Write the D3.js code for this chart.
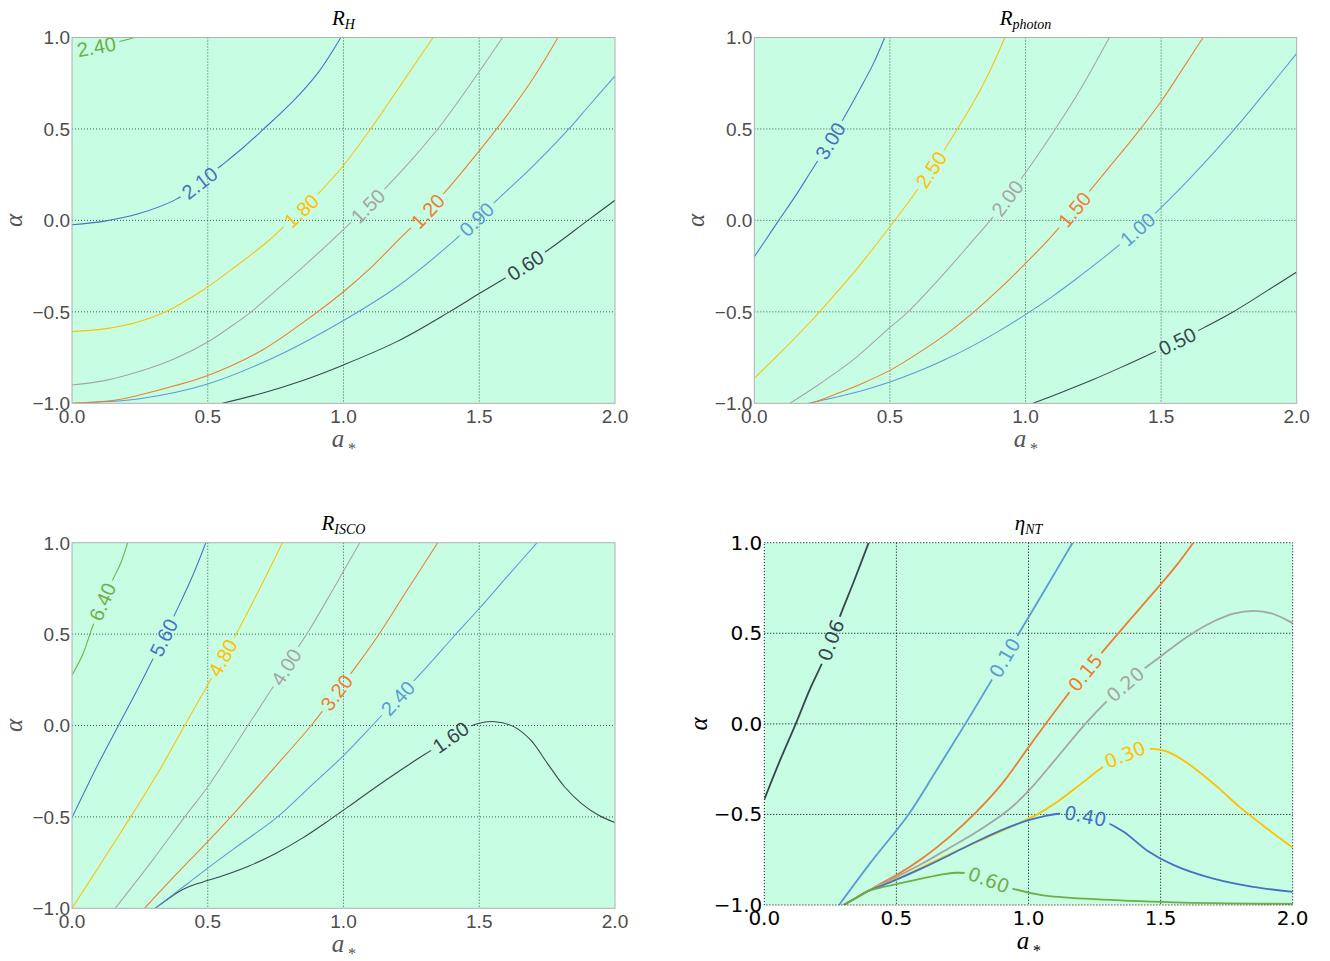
<!DOCTYPE html>
<html><head><meta charset="utf-8">
<script src="https://cdn.jsdelivr.net/npm/d3@7"></script>
<style>body{margin:0;background:#fff}</style>
</head><body>
<svg id="chart" width="1330" height="961"></svg>
<script>
// ---------------- DATA ----------------
const xTicks = [0, 0.5, 1, 1.5, 2];
const yTicks = [-1, -0.5, 0, 0.5, 1];
const xTickLabels = ["0.0", "0.5", "1.0", "1.5", "2.0"];
const yTickLabels = ["\u22121.0", "\u22120.5", "0.0", "0.5", "1.0"];

// R_H contours
const rhLevels = ["0.60", "0.90", "1.20", "1.50", "1.80", "2.10", "2.40"];
const rhLines = [
  [[0.554,-1.0],[0.7,-0.945],[0.85,-0.875],[1.0,-0.79],[1.2,-0.66],[1.39,-0.5],[1.5,-0.40],[1.59,-0.32],[1.67,-0.245],[1.76,-0.155],[1.9,0.0],[2.0,0.11]],
  [[0.02,-1.0],[0.1,-0.993],[0.25,-0.975],[0.5,-0.894],[0.75,-0.745],[1.0,-0.547],[1.2,-0.36],[1.4,-0.12],[1.5,0.02],[1.6,0.16],[1.7,0.30],[1.83,0.5],[1.9,0.62],[2.0,0.79]],
  [[0.0,-0.998],[0.15,-0.985],[0.3,-0.935],[0.5,-0.848],[0.7,-0.71],[0.9,-0.505],[1.0,-0.39],[1.1,-0.26],[1.2,-0.11],[1.3,0.035],[1.4,0.20],[1.5,0.38],[1.6,0.57],[1.7,0.78],[1.79,1.0]],
  [[0.0,-0.9],[0.12,-0.876],[0.25,-0.825],[0.38,-0.755],[0.5,-0.665],[0.6,-0.565],[0.66,-0.5],[0.75,-0.385],[0.85,-0.255],[0.95,-0.12],[1.06,0.035],[1.15,0.17],[1.25,0.33],[1.355,0.515],[1.47,0.75],[1.586,1.0]],
  [[0.0,-0.608],[0.12,-0.593],[0.24,-0.557],[0.344,-0.5],[0.48,-0.383],[0.6,-0.255],[0.725,-0.11],[0.79,-0.02],[0.85,0.06],[0.91,0.15],[1.0,0.3],[1.1,0.5],[1.22,0.76],[1.33,1.0]],
  [[0.0,-0.024],[0.12,-0.004],[0.244,0.036],[0.383,0.115],[0.47,0.205],[0.55,0.30],[0.632,0.40],[0.701,0.493],[0.818,0.657],[0.91,0.815],[0.99,1.0]],
  [[0.01,0.93],[0.09,0.95],[0.16,0.972],[0.23,1.0]]
];
const rhLabelA = [1.67, 1.49, 1.31, 1.09, 0.845, 0.47, 0.09];

// R_photon contours
const rpLevels = ["0.50", "1.00", "1.50", "2.00", "2.50", "3.00"];
const rpLines = [
  [[1.028,-1.0],[1.15,-0.93],[1.25,-0.87],[1.35,-0.805],[1.45,-0.737],[1.56,-0.66],[1.66,-0.585],[1.76,-0.505],[1.88,-0.395],[2.0,-0.282]],
  [[0.2,-1.0],[0.3,-0.967],[0.4,-0.93],[0.5,-0.884],[0.6,-0.828],[0.7,-0.763],[0.8,-0.69],[0.9,-0.607],[1.0,-0.515],[1.1,-0.415],[1.2,-0.305],[1.3,-0.19],[1.4,-0.065],[1.5,0.07],[1.6,0.22],[1.7,0.38],[1.8,0.55],[1.9,0.73],[2.0,0.913]],
  [[0.21,-1.0],[0.3,-0.95],[0.4,-0.89],[0.5,-0.82],[0.6,-0.73],[0.7,-0.63],[0.81,-0.5],[0.9,-0.38],[1.0,-0.235],[1.1,-0.08],[1.2,0.095],[1.3,0.275],[1.413,0.48],[1.5,0.65],[1.58,0.83],[1.655,1.0]],
  [[0.132,-1.0],[0.25,-0.885],[0.375,-0.75],[0.5,-0.585],[0.567,-0.5],[0.7,-0.29],[0.8,-0.12],[0.87,0.0],[0.994,0.248],[1.11,0.5],[1.2,0.71],[1.309,1.0]],
  [[0.0,-0.863],[0.1,-0.718],[0.2,-0.565],[0.3,-0.4],[0.4,-0.225],[0.5,-0.035],[0.6,0.165],[0.7,0.385],[0.8,0.625],[0.86,0.79],[0.924,1.0]],
  [[0.0,-0.199],[0.045,-0.10],[0.09,0.0],[0.15,0.13],[0.21,0.27],[0.27,0.41],[0.33,0.56],[0.39,0.72],[0.44,0.86],[0.481,1.0]]
];
const rpLabelA = [1.56, 1.413, 1.18, 0.932, 0.652, 0.28];

// R_ISCO contours
const riLevels = ["1.60", "2.40", "3.20", "4.00", "4.80", "5.60", "6.40"];
const riLines = [
  [[0.306,-1.0],[0.35,-0.953],[0.39,-0.912],[0.43,-0.882],[0.48,-0.857],[0.55,-0.825],[0.65,-0.77],[0.75,-0.7],[0.85,-0.615],[0.95,-0.515],[1.05,-0.41],[1.15,-0.305],[1.25,-0.205],[1.35,-0.11],[1.43,-0.03],[1.49,0.008],[1.557,0.021],[1.627,-0.006],[1.689,-0.079],[1.751,-0.207],[1.814,-0.335],[1.876,-0.426],[1.938,-0.49],[2.0,-0.531]],
  [[0.306,-1.0],[0.35,-0.95],[0.39,-0.905],[0.43,-0.86],[0.5,-0.78],[0.6,-0.67],[0.757,-0.5],[0.88,-0.33],[1.0,-0.165],[1.106,0.0],[1.2,0.15],[1.3,0.31],[1.402,0.48],[1.5,0.64],[1.6,0.81],[1.713,1.0]],
  [[0.267,-1.0],[0.38,-0.82],[0.5,-0.635],[0.6,-0.475],[0.74,-0.24],[0.881,0.0],[0.974,0.18],[1.05,0.33],[1.122,0.48],[1.23,0.73],[1.347,1.0]],
  [[0.159,-1.0],[0.29,-0.75],[0.415,-0.5],[0.5,-0.335],[0.648,0.0],[0.733,0.194],[0.788,0.32],[0.834,0.431],[0.873,0.52],[0.96,0.74],[1.06,1.0]],
  [[0.0,-1.0],[0.1,-0.77],[0.216,-0.5],[0.32,-0.25],[0.415,0.0],[0.50,0.222],[0.555,0.37],[0.606,0.504],[0.69,0.745],[0.775,1.0]],
  [[0.0,-0.504],[0.05,-0.35],[0.1,-0.2],[0.171,0.0],[0.244,0.205],[0.3,0.37],[0.35,0.52],[0.4,0.675],[0.446,0.825],[0.493,1.0]],
  [[0.0,0.276],[0.04,0.39],[0.073,0.53],[0.11,0.67],[0.151,0.80],[0.18,0.89],[0.205,1.0]]
];
const riLabelA = [1.394, 1.2, 0.974, 0.788, 0.555, 0.337, 0.112];

// eta_NT contours
const etaLevels = ["0.06", "0.10", "0.15", "0.20", "0.30", "0.40", "0.60"];
const etaLines = [
  [[0.0,-0.417],[0.061,-0.196],[0.119,0.0],[0.172,0.189],[0.22,0.34],[0.252,0.46],[0.291,0.611],[0.34,0.79],[0.395,1.0]],
  [[0.283,-1.0],[0.4,-0.77],[0.546,-0.5],[0.65,-0.26],[0.761,0.0],[0.86,0.24],[0.92,0.39],[0.968,0.51],[1.07,0.76],[1.167,1.0]],
  [[0.3,-1.0],[0.345,-0.963],[0.39,-0.925],[0.45,-0.875],[0.5,-0.835],[0.6,-0.74],[0.7,-0.625],[0.8,-0.49],[0.9,-0.33],[1.0,-0.13],[1.05,-0.03],[1.15,0.165],[1.27,0.38],[1.334,0.49],[1.42,0.635],[1.5,0.77],[1.56,0.875],[1.624,1.0]],
  [[0.3,-1.0],[0.345,-0.963],[0.39,-0.925],[0.45,-0.88],[0.5,-0.845],[0.6,-0.77],[0.7,-0.685],[0.8,-0.6],[0.92,-0.48],[1.0,-0.37],[1.1,-0.2],[1.215,0.0],[1.3,0.13],[1.4,0.26],[1.5,0.372],[1.6,0.48],[1.7,0.565],[1.78,0.61],[1.852,0.624],[1.92,0.61],[2.0,0.556]],
  [[0.3,-1.0],[0.345,-0.963],[0.39,-0.925],[0.45,-0.887],[0.5,-0.857],[0.6,-0.79],[0.7,-0.72],[0.8,-0.655],[0.9,-0.59],[1.032,-0.5],[1.1,-0.44],[1.2,-0.33],[1.28,-0.24],[1.35,-0.18],[1.42,-0.145],[1.47,-0.138],[1.52,-0.15],[1.58,-0.195],[1.65,-0.27],[1.72,-0.355],[1.8,-0.46],[1.9,-0.575],[2.0,-0.683]],
  [[0.3,-1.0],[0.345,-0.963],[0.39,-0.925],[0.45,-0.89],[0.5,-0.86],[0.6,-0.795],[0.7,-0.725],[0.8,-0.652],[0.9,-0.585],[1.0,-0.532],[1.07,-0.506],[1.13,-0.495],[1.2,-0.505],[1.28,-0.535],[1.36,-0.595],[1.45,-0.7],[1.55,-0.78],[1.7,-0.855],[1.85,-0.9],[2.0,-0.927]],
  [[0.3,-1.0],[0.345,-0.963],[0.39,-0.925],[0.45,-0.9],[0.5,-0.885],[0.6,-0.853],[0.68,-0.83],[0.73,-0.822],[0.78,-0.828],[0.85,-0.862],[0.93,-0.905],[1.05,-0.945],[1.25,-0.968],[1.55,-0.985],[2.0,-0.994]]
];
const etaLabelA = [0.252, 0.91, 1.215, 1.366, 1.366, 1.215, 0.849];

// ---------------- STYLE / LAYOUT ----------------
const palette = ["#36464e", "#5b9bd5", "#ed7d31", "#a5a5a5", "#ffc000", "#4472c4", "#70ad47"];
const mint = "#c7fde3";

const panels = [
  {x0:72, x1:615, y0:37.5, y1:403.3, title:"R", sub:"H", levels:rhLevels, lines:rhLines, labA:rhLabelA, mpl:false},
  {x0:754.3, x1:1296.7, y0:37.5, y1:403.3, title:"R", sub:"photon", levels:rpLevels, lines:rpLines, labA:rpLabelA, mpl:false},
  {x0:72, x1:615, y0:542.7, y1:908.3, title:"R", sub:"ISCO", levels:riLevels, lines:riLines, labA:riLabelA, mpl:false},
  {x0:764.3, x1:1292.7, y0:542.7, y1:905, title:"\u03b7", sub:"NT", levels:etaLevels, lines:etaLines, labA:etaLabelA, mpl:true}
];

const svg = d3.select("#chart");
const defs = svg.append("defs");

panels.forEach((p, pi) => {
  const x = d3.scaleLinear().domain([0, 2]).range([p.x0, p.x1]);
  const y = d3.scaleLinear().domain([-1, 1]).range([p.y1, p.y0]);
  const g = svg.append("g");
  const sansFont = p.mpl ? "DejaVu Sans" : "Liberation Sans";
  const txtCol = p.mpl ? "#000" : "#4d4d4d";
  const gridCol = p.mpl ? "#000" : "#3d5c4e";
  const labSize = p.mpl ? 19 : 20;

  defs.append("clipPath").attr("id", "clip" + pi)
    .append("rect").attr("x", p.x0).attr("y", p.y0)
    .attr("width", p.x1 - p.x0).attr("height", p.y1 - p.y0);

  g.append("rect").attr("x", p.x0).attr("y", p.y0)
    .attr("width", p.x1 - p.x0).attr("height", p.y1 - p.y0)
    .attr("fill", mint);

  const grid = g.append("g").attr("stroke", gridCol).attr("stroke-width", 1)
    .attr("stroke-dasharray", "1,2").attr("fill", "none");
  xTicks.slice(1, -1).forEach(t => grid.append("line")
    .attr("x1", x(t)).attr("x2", x(t)).attr("y1", p.y0).attr("y2", p.y1));
  yTicks.slice(1, -1).forEach(t => grid.append("line")
    .attr("x1", p.x0).attr("x2", p.x1).attr("y1", y(t)).attr("y2", y(t)));

  const mask = defs.append("mask").attr("id", "mask" + pi)
    .attr("maskUnits", "userSpaceOnUse")
    .attr("x", 0).attr("y", 0).attr("width", 1330).attr("height", 961);
  mask.append("rect").attr("x", 0).attr("y", 0).attr("width", 1330).attr("height", 961).attr("fill", "#fff");

  const cg = g.append("g").attr("clip-path", `url(#clip${pi})`);
  const lg = cg.append("g").attr("mask", `url(#mask${pi})`);
  const line = d3.line().x(d => x(d[0])).y(d => y(d[1])).curve(d3.curveCatmullRom.alpha(0.5));
  const labG = g.append("g");

  p.lines.forEach((pts, li) => {
    const col = palette[li];
    const path = lg.append("path").datum(pts).attr("d", line)
      .attr("fill", "none").attr("stroke", col)
      .attr("stroke-width", p.mpl ? 1.8 : 1.05);
    const a = p.labA[li];
    if (a == null) return;
    const node = path.node();
    const L = node.getTotalLength();
    const tx = x(a);
    let best = 0, bd = 1e9;
    for (let s = 0; s <= L; s += 0.5) {
      const q = node.getPointAtLength(s);
      const d = Math.abs(q.x - tx);
      if (d < bd) { bd = d; best = s; }
    }
    const c = node.getPointAtLength(best);
    const q1 = node.getPointAtLength(Math.max(0, best - 8));
    const q2 = node.getPointAtLength(Math.min(L, best + 8));
    let ang = Math.atan2(q2.y - q1.y, q2.x - q1.x) * 180 / Math.PI;
    if (ang > 90) ang -= 180;
    if (ang < -90) ang += 180;
    const t = labG.append("text")
      .attr("transform", `translate(${c.x},${c.y}) rotate(${ang})`)
      .attr("text-anchor", "middle").attr("dy", "0.36em")
      .attr("font-family", sansFont).attr("font-size", labSize)
      .attr("fill", col).text(p.levels[li]);
    const w = t.node().getComputedTextLength();
    mask.append("rect")
      .attr("transform", `translate(${c.x},${c.y}) rotate(${ang})`)
      .attr("x", -w / 2 - 4).attr("y", -8).attr("width", w + 8).attr("height", 16)
      .attr("fill", "#000");
  });

  g.append("rect").attr("x", p.x0).attr("y", p.y0)
    .attr("width", p.x1 - p.x0).attr("height", p.y1 - p.y0)
    .attr("fill", "none")
    .attr("stroke", p.mpl ? "#000" : "#b0b0b0")
    .attr("stroke-width", 1)
    .attr("stroke-dasharray", p.mpl ? "1,2" : null);

  const tickSize = p.mpl ? 20 : 19;
  xTicks.forEach((t, i) => g.append("text")
    .attr("x", x(t)).attr("y", p.y1 + 20)
    .attr("text-anchor", "middle")
    .attr("font-family", sansFont).attr("font-size", tickSize)
    .attr("fill", txtCol).text(xTickLabels[i]));
  yTicks.forEach((t, i) => g.append("text")
    .attr("x", p.x0 - 2).attr("y", y(t) + 6.8)
    .attr("text-anchor", "end")
    .attr("font-family", sansFont).attr("font-size", tickSize)
    .attr("fill", txtCol).text(yTickLabels[i]));

  const cx = (p.x0 + p.x1) / 2;
  const tt = g.append("text").attr("x", cx).attr("y", p.y0 - 13)
    .attr("text-anchor", "middle")
    .attr("font-family", "Liberation Serif").attr("font-style", "italic")
    .attr("font-size", 21).attr("fill", "#000");
  tt.append("tspan").text(p.title);
  tt.append("tspan").attr("font-size", 14).attr("dy", 4).text(p.sub);

  const xl = g.append("text").attr("x", cx).attr("y", p.y1 + 44)
    .attr("text-anchor", "middle")
    .attr("font-family", "Liberation Serif").attr("font-style", "italic")
    .attr("font-size", 25).attr("fill", p.mpl ? "#000" : "#555");
  xl.append("tspan").text("a");
  xl.append("tspan").attr("font-size", 16).attr("dy", 7).attr("dx", 3).text("*");

  g.append("text")
    .attr("transform", `translate(${p.mpl ? p.x0 - 57 : p.x0 - 50},${(p.y0 + p.y1) / 2}) rotate(-90)`)
    .attr("text-anchor", "middle")
    .attr("font-family", "Liberation Serif").attr("font-style", "italic")
    .attr("font-size", 25).attr("fill", p.mpl ? "#000" : "#555")
    .text("\u03b1");
});
</script>
</body></html>
